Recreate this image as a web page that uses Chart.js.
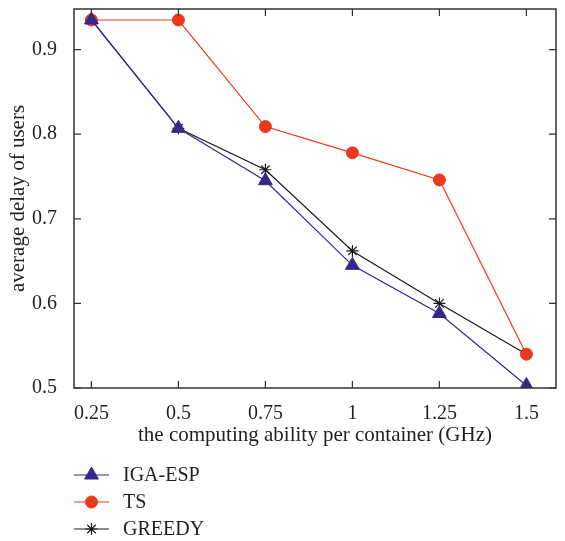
<!DOCTYPE html>
<html>
<head>
<meta charset="utf-8">
<script src="https://cdn.jsdelivr.net/npm/chart.js@4"></script>
<style>
  html, body { margin: 0; padding: 0; background: #fff; }
  #wrap { width: 565px; height: 541px; }
</style>
</head>
<body>
<div id="wrap"><canvas id="c" width="565" height="541"></canvas></div>
<script>
// data
const xValues = [0.25, 0.5, 0.75, 1, 1.25, 1.5];
const igaEsp = [0.935, 0.807, 0.745, 0.645, 0.588, 0.503];
const ts = [0.935, 0.935, 0.809, 0.778, 0.746, 0.540];
const greedy = [0.935, 0.807, 0.758, 0.662, 0.600, 0.540];
const xTicks = [0.25, 0.5, 0.75, 1, 1.25, 1.5];
const yTicks = [0.5, 0.6, 0.7, 0.8, 0.9];

const FONT = '"Liberation Serif", "DejaVu Serif", serif';
const INK = '#231f20';

function pts(ys) {
  return xValues.map((x, i) => ({ x: x, y: ys[i] }));
}

// box with inward ticks on all four sides
const frame = {
  id: 'frame',
  afterDatasetsDraw(chart) {
    const { ctx, chartArea: a, scales } = chart;
    ctx.save();
    ctx.strokeStyle = '#333';
    ctx.lineWidth = 1.5;
    ctx.strokeRect(a.left, a.top, a.right - a.left, a.bottom - a.top);
    ctx.lineWidth = 1.2;
    ctx.beginPath();
    xTicks.forEach(v => {
      const px = scales.x.getPixelForValue(v);
      ctx.moveTo(px, a.bottom); ctx.lineTo(px, a.bottom - 7);
      ctx.moveTo(px, a.top); ctx.lineTo(px, a.top + 7);
    });
    yTicks.forEach(v => {
      const py = scales.y.getPixelForValue(v);
      ctx.moveTo(a.left, py); ctx.lineTo(a.left + 7, py);
      ctx.moveTo(a.right, py); ctx.lineTo(a.right - 7, py);
    });
    ctx.stroke();
    ctx.restore();
  }
};

// legend below the axes: line sample with marker in the middle
const lineLegend = {
  id: 'lineLegend',
  afterDraw(chart) {
    const ctx = chart.ctx;
    const x0 = 74, x1 = 109, tx = 123;
    const rows = [475, 502, 529];
    ctx.save();
    chart.data.datasets.forEach((ds, i) => {
      const y = rows[i];
      ctx.strokeStyle = ds.borderColor;
      ctx.lineWidth = ds.borderWidth;
      ctx.beginPath();
      ctx.moveTo(x0, y); ctx.lineTo(x1, y);
      ctx.stroke();
      ctx.fillStyle = ds.pointBackgroundColor;
      ctx.strokeStyle = ds.pointBorderColor;
      ctx.lineWidth = ds.pointBorderWidth;
      Chart.helpers.drawPoint(ctx, { pointStyle: ds.pointStyle, radius: ds.pointRadius, borderWidth: ds.pointBorderWidth }, (x0 + x1) / 2, y);
      ctx.fillStyle = INK;
      ctx.font = '20px ' + FONT;
      ctx.textBaseline = 'middle';
      ctx.fillText(ds.label, tx, y + 1);
    });
    ctx.restore();
  }
};

new Chart(document.getElementById('c'), {
  type: 'line',
  data: {
    datasets: [
      {
        label: 'IGA-ESP',
        data: pts(igaEsp),
        borderColor: '#35288a',
        borderWidth: 1.2,
        pointStyle: 'triangle',
        pointRadius: 8,
        pointBackgroundColor: '#35288a',
        pointBorderColor: '#35288a',
        pointBorderWidth: 1
      },
      {
        label: 'TS',
        data: pts(ts),
        borderColor: '#e8391d',
        borderWidth: 1.2,
        pointStyle: 'circle',
        pointRadius: 6,
        pointBackgroundColor: '#e8391d',
        pointBorderColor: '#e8391d',
        pointBorderWidth: 1
      },
      {
        label: 'GREEDY',
        data: pts(greedy),
        borderColor: '#1a1a1a',
        borderWidth: 1.2,
        pointStyle: 'star',
        pointRadius: 6,
        pointBackgroundColor: '#1a1a1a',
        pointBorderColor: '#1a1a1a',
        pointBorderWidth: 1.2
      }
    ]
  },
  options: {
    responsive: false,
    animation: false,
    layout: { padding: { top: 7, right: 4, left: 0, bottom: 0 } },
    plugins: {
      legend: { display: false },
      tooltip: { enabled: false }
    },
    scales: {
      x: {
        type: 'linear',
        min: 0.2,
        max: 1.585,
        grid: { display: false },
        border: { display: false },
        afterBuildTicks(s) { s.ticks = xTicks.map(v => ({ value: v })); },
        afterFit(s) { s.height = 153; s.paddingLeft = 0; s.paddingRight = 0; },
        ticks: {
          color: INK,
          padding: 6,
          maxRotation: 0,
          font: { family: FONT, size: 20 },
          callback: v => String(v)
        },
        title: {
          display: true,
          text: 'the computing ability per container (GHz)',
          color: INK,
          font: { family: FONT, size: 21 },
          padding: { top: 4, bottom: 93 }
        }
      },
      y: {
        min: 0.5,
        max: 0.948,
        grid: { display: false },
        border: { display: false },
        afterBuildTicks(s) { s.ticks = yTicks.map(v => ({ value: v })); },
        afterFit(s) { s.width = 74; s.paddingTop = 0; s.paddingBottom = 0; },
        ticks: {
          color: INK,
          padding: 9,
          font: { family: FONT, size: 20 },
          callback: v => v.toFixed(1)
        },
        title: {
          display: true,
          text: 'average delay of users',
          color: INK,
          font: { family: FONT, size: 21 },
          padding: { top: 6, bottom: 6 }
        }
      }
    }
  },
  plugins: [frame, lineLegend]
});
</script>
</body>
</html>
